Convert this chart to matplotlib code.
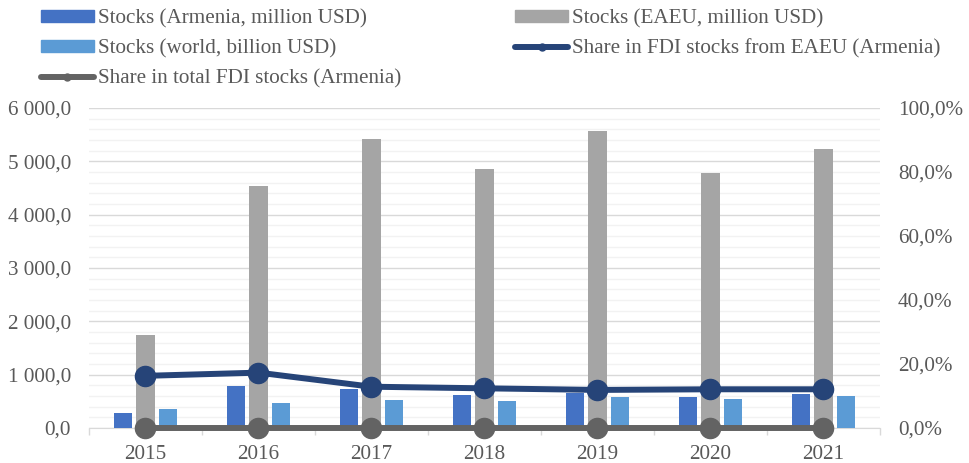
import matplotlib
matplotlib.use("Agg")
import matplotlib.pyplot as plt
from matplotlib.lines import Line2D
from matplotlib.patches import Patch
from matplotlib.ticker import FuncFormatter, MultipleLocator, FixedLocator
import numpy as np

years = ["2015", "2016", "2017", "2018", "2019", "2020", "2021"]
stocks_armenia = [285, 790, 725, 620, 650, 590, 630]
stocks_eaeu = [1750, 4540, 5415, 4855, 5560, 4790, 5225]
stocks_world = [350, 475, 530, 500, 590, 545, 605]
share_eaeu = [16.3, 17.3, 12.9, 12.4, 11.9, 12.1, 12.1]
share_total = [0, 0, 0, 0, 0, 0, 0]

labels = ["Stocks (Armenia, million USD)", "Stocks (world, billion USD)",
          "Share in total FDI stocks (Armenia)", "Stocks (EAEU, million USD)",
          "Share in FDI stocks from EAEU (Armenia)"]

c_arm = "#4472C4"
c_eaeu = "#A5A5A5"
c_world = "#5B9BD5"
c_share = "#264478"
c_total = "#636363"
txt = "#595959"

plt.rcParams['font.family'] = ['Liberation Serif', 'DejaVu Serif']
fs = 15.2

fig = plt.figure(figsize=(9.7, 4.63), dpi=100)
ax = fig.add_axes([89/970, 1-428/463, 791/970, 320/463])
x = np.arange(len(years))
w = 0.16
off = 0.203
ax.bar(x - off, stocks_armenia, w, color=c_arm, zorder=3)
ax.bar(x, stocks_eaeu, w, color=c_eaeu, zorder=3)
ax.bar(x + off, stocks_world, w, color=c_world, zorder=3)

ax.set_xlim(-0.5, 6.5)
ax.set_ylim(0, 6000)
ax.yaxis.set_major_locator(MultipleLocator(1000))
ax.yaxis.set_minor_locator(MultipleLocator(200))
ax.grid(axis='y', which='major', color='#D9D9D9', lw=1.0, zorder=0)
ax.grid(axis='y', which='minor', color='#F2F2F2', lw=1.0, zorder=0)
ax.set_axisbelow(True)

def lfmt(v, p):
    s = f"{v:,.1f}".replace(",", " ").replace(".", ",")
    return s
ax.yaxis.set_major_formatter(FuncFormatter(lfmt))
ax.tick_params(axis='y', which='both', length=0, labelsize=fs, labelcolor=txt, pad=13)
ax.set_xticks(x)
ax.set_xticklabels(years)
ax.xaxis.set_minor_locator(FixedLocator(np.arange(-0.5, 7, 1.0)))
ax.tick_params(axis='x', which='major', length=0, labelsize=fs, labelcolor=txt, pad=12)
ax.tick_params(axis='x', which='minor', length=5, color='#D9D9D9', width=1)
for s in ['top', 'left', 'right']:
    ax.spines[s].set_visible(False)
ax.spines['bottom'].set_color('#D9D9D9')

ax2 = ax.twinx()
ax2.set_ylim(0, 100)
ax2.yaxis.set_major_locator(MultipleLocator(20))
ax2.yaxis.set_major_formatter(FuncFormatter(lambda v, p: f"{v:.1f}%".replace(".", ",")))
ax2.tick_params(axis='y', length=0, labelsize=fs, labelcolor=txt, pad=13)
for s in ['top', 'left', 'right', 'bottom']:
    ax2.spines[s].set_visible(False)
ax2.plot(x, share_total, color=c_total, lw=4.3, marker='o', ms=14.5, zorder=4,
         solid_capstyle='round', clip_on=False)
ax2.plot(x, share_eaeu, color=c_share, lw=4.3, marker='o', ms=14.5, zorder=5,
         solid_capstyle='round', clip_on=False)

handles = [Patch(color=c_arm), Patch(color=c_world),
           Line2D([], [], color=c_total, lw=4.3, marker='o', ms=5, solid_capstyle='round'),
           Patch(color=c_eaeu),
           Line2D([], [], color=c_share, lw=4.3, marker='o', ms=5, solid_capstyle='round')]
leg = fig.legend(handles, labels, ncol=2, loc='upper left',
                 bbox_to_anchor=(41/970, 1 - 9/463), frameon=False, fontsize=fs,
                 handlelength=2.5, handleheight=0.5, handletextpad=0.2,
                 labelspacing=0.52, columnspacing=5.4, borderpad=0, borderaxespad=0)
for t in leg.get_texts():
    t.set_color(txt)

fig.savefig("out.png", dpi=100)
